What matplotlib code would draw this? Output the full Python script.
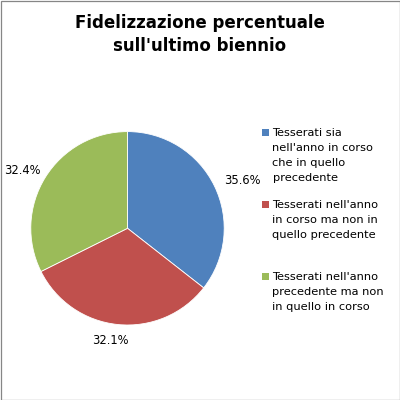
import matplotlib
matplotlib.use("Agg")
import matplotlib.pyplot as plt
import numpy as np
from matplotlib.patches import Rectangle

title = "Fidelizzazione percentuale\nsull'ultimo biennio"
categories = [
    "Tesserati sia\nnell'anno in corso\nche in quello\nprecedente",
    "Tesserati nell'anno\nin corso ma non in\nquello precedente",
    "Tesserati nell'anno\nprecedente ma non\nin quello in corso",
]
values = [35.6, 32.1, 32.4]
colors = ["#4F81BD", "#C0504D", "#9BBB59"]

W = H = 400
fig = plt.figure(figsize=(4, 4), dpi=100)
fig.patch.set_facecolor("white")

def fx(px):
    return px / W

def fy(py):
    return 1 - py / H

# pie axes: center (127.5, 228.3), radius 96.7 px
cx, cy, r = 127.5, 228.3, 96.7
ax = fig.add_axes([fx(cx - r), fy(cy + r), 2 * r / W, 2 * r / H])
wedges, texts, autotexts = ax.pie(
    values, colors=colors, startangle=90, counterclock=False,
    autopct=lambda p: f"{p:.1f}%", pctdistance=1.22,
    wedgeprops=dict(edgecolor="white", linewidth=0.6),
    textprops=dict(fontsize=8.3, color="#000000", family="DejaVu Sans"))
# Excel-like "best fit" label placement (angle offset in deg, radial distance)
label_place = [(-3.5, 1.29), (-3.0, 1.17), (3.0, 1.24)]
for w, t, (dang, dist) in zip(wedges, autotexts, label_place):
    ang = np.deg2rad((w.theta1 + w.theta2) / 2 + dang)
    t.set_position((dist * np.cos(ang), dist * np.sin(ang)))
ax.set_xlim(-1, 1)
ax.set_ylim(-1, 1)
ax.set_aspect("equal")
ax.axis("off")

# title
fig.text(0.5, fy(14.5), title, ha="center", va="top", fontsize=12,
         fontweight="bold", family="DejaVu Sans", linespacing=1.32)

# legend (manual, to match uneven spacing)
cap_tops = [129.0, 200.7, 272.7]
for cat, col, top in zip(categories, colors, cap_tops):
    fig.patches.append(Rectangle((fx(262), fy(top + 7)), 7 / W, 7 / H,
                                 transform=fig.transFigure, facecolor=col,
                                 edgecolor="none"))
    fig.text(fx(272.5), fy(top - 0.5), cat, ha="left", va="top",
             fontsize=8.2, family="DejaVu Sans", linespacing=1.62,
             color="#000000")

# outer border
fig.patches.append(Rectangle((0.5 / W, 0.5 / H), 1 - 1 / W, 1 - 1 / H,
                             transform=fig.transFigure, facecolor="none",
                             edgecolor="#868686", linewidth=0.9))

fig.savefig("out.png", dpi=100)
